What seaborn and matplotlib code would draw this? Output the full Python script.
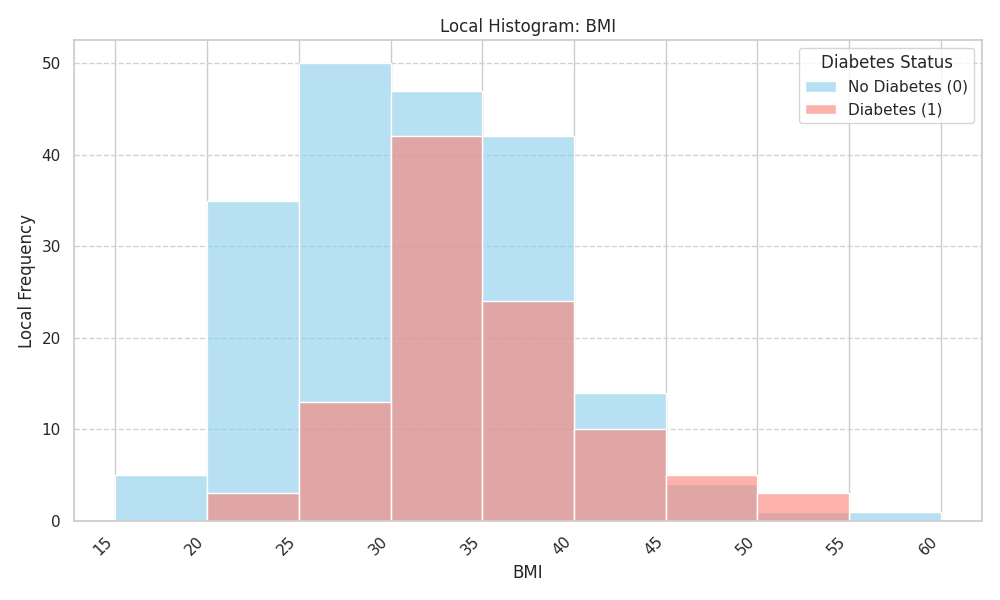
import numpy as np
import pandas as pd
import matplotlib
matplotlib.use("Agg")
import matplotlib.pyplot as plt
import seaborn as sns

bin_edges = [15, 20, 25, 30, 35, 40, 45, 50, 55, 60]
no_diabetes = [5, 35, 50, 47, 42, 14, 4, 1, 1]
diabetes = [0, 3, 13, 42, 24, 10, 5, 3, 0]

mids = [(a + b) / 2 for a, b in zip(bin_edges[:-1], bin_edges[1:])]
df0 = pd.DataFrame({"BMI": mids, "count": no_diabetes})
df1 = pd.DataFrame({"BMI": mids, "count": diabetes})

sns.set_theme(style="whitegrid")
fig, ax = plt.subplots(figsize=(10, 6), dpi=100)
sns.histplot(data=df0, x="BMI", weights="count", bins=bin_edges, color="skyblue",
             alpha=0.6, edgecolor="white", label="No Diabetes (0)", ax=ax)
sns.histplot(data=df1, x="BMI", weights="count", bins=bin_edges, color="salmon",
             alpha=0.6, edgecolor="white", label="Diabetes (1)", ax=ax)

ax.set_xticks(bin_edges)
plt.setp(ax.get_xticklabels(), rotation=45, ha="right")
ax.grid(axis="y", linestyle="--", alpha=0.9)
ax.set_title("Local Histogram: BMI")
ax.set_xlabel("BMI")
ax.set_ylabel("Local Frequency")
ax.legend(title="Diabetes Status", loc="upper right")
plt.tight_layout()
plt.savefig("out.png")
